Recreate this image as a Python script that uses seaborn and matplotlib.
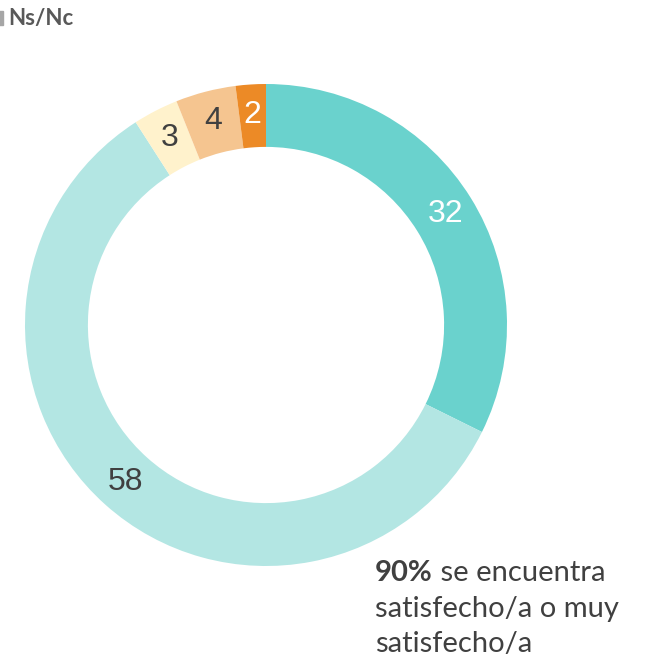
import seaborn as sns
import matplotlib.pyplot as plt
from matplotlib.patches import Rectangle

# Satisfaction breakdown (clockwise from the top)
categories = ['Muy satisfecho/a', 'Satisfecho/a', 'Ni satisfecho/a ni insatisfecho/a',
              'Insatisfecho/a', 'Ns/Nc']
values = [32, 58, 3, 4, 2]
colors = ['#6AD2CD', '#B3E6E3', '#FFF2CC', '#F5C590', '#EC8A26']
label_colors = ['white', '#404040', '#404040', '#404040', 'white']

sns.set_theme(style='white')
plt.rcParams['font.family'] = ['Liberation Sans', 'DejaVu Sans']

W, H = 656, 662
fig = plt.figure(figsize=(W / 100, H / 100), dpi=100)

# donut axes: centre (266, 325) px, outer radius 241 px
cx, cy, R = 266, 325, 241
ax = fig.add_axes([(cx - R) / W, (H - cy - R) / H, 2 * R / W, 2 * R / H])
wedges, texts = ax.pie(values, colors=colors, startangle=90, counterclock=False,
                       radius=1, labels=[str(v) for v in values], labeldistance=0.875,
                       wedgeprops=dict(width=0.261, linewidth=0),
                       textprops=dict(fontsize=23))
for t, c in zip(texts, label_colors):
    t.set_color(c)
    t.set_ha('center')
    t.set_va('center')
ax.set_xlim(-1, 1)
ax.set_ylim(-1, 1)
ax.axis('off')

# annotation bottom right
txt_color = '#404040'
fs = 21
fam = ['Lato', 'DejaVu Sans']
bold = fig.text(375 / W, 1 - 581 / H, '90%', fontsize=fs, fontweight='bold',
                color=txt_color, family=fam, va='baseline')
plt.annotate(' se encuentra', xy=(1, 0), xycoords=bold, va='bottom', ha='left',
             fontsize=fs, color=txt_color, family=fam)
fig.text(375 / W, 1 - 617 / H, 'satisfecho/a o muy', fontsize=fs, color=txt_color,
         family=fam, va='baseline')
fig.text(375 / W, 1 - 652 / H, 'satisfecho/a', fontsize=fs, color=txt_color,
         family=fam, va='baseline')

# cropped legend in the top-left corner
fig.patches.append(Rectangle((-8 / W, 1 - 25 / H), 11 / W, 14 / H,
                             transform=fig.transFigure, color='#A6A6A6'))
fig.text(8 / W, 1 - 18 / H, 'Ns/Nc', fontsize=16, fontweight='bold', color='#595959',
         family=fam, va='center')

fig.savefig('out.png', dpi=100)
